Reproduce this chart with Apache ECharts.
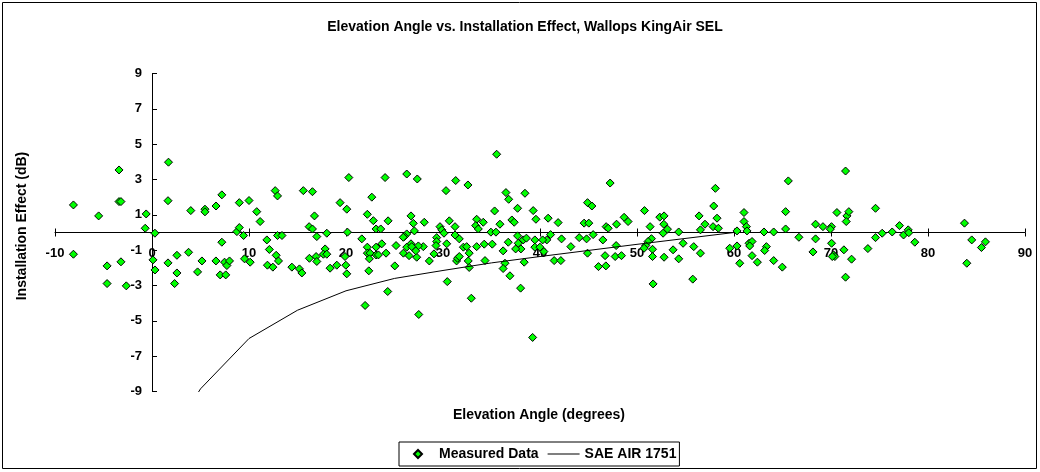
<!DOCTYPE html>
<html>
<head>
<meta charset="utf-8">
<script src="https://cdn.jsdelivr.net/npm/echarts@6/dist/echarts.min.js"></script>
<style>
  html, body { margin: 0; padding: 0; background: #fff; }
  #chart { width: 1040px; height: 472px; }
</style>
</head>
<body>
<div id="chart"></div>
<script>
// measured points: elevation angle (deg) and installation effect (dB)
var measuredAngle = [
  -8.1, -5.5, -3.4, -3.4, -3.2, -0.6, -0.7, 0.3, 1.7, 1.65, 4.0, 5.46, 5.46, 6.6, 7.2, 7.2, 9.0, 8.75, 9.0, 9.44,
  10.0, 10.8, 11.15, 11.84, 12.7, 12.94, 12.94, 13.4, 12.1, 15.6, 16.2,
  -8.1, -4.63, -4.63, -3.2, -2.65, 0.1, 0.31, 1.65, 2.57, 2.57, 2.33, 3.77, 4.7, 5.15, 6.59, 7.03, 7.6, 7.48, 7.72, 7.99,
  9.54, 10.12, 11.9, 12.46, 12.8, 13.04, 14.42, 15.2, 15.45, 16.23,
  16.54, 16.75, 16.54, 16.99, 18.02, 19.39, 20.08, 20.29, 20.15, 21.63, 22.2, 22.66, 22.82, 23.1, 23.58, 24.03, 24.34,
  26.26, 27.35, 26.7, 26.94, 27.05, 26.26, 26.02, 28.07, 29.69, 29.87, 30.1, 29.35, 29.35, 30.31, 30.65, 31.24, 31.31,
  32.57, 31.24, 31.68, 33.47, 33.37, 33.64, 34.15, 34.94, 35.32, 35.46, 35.53, 35.87, 36.49, 36.77, 37.1, 37.34, 37.69,
  37.69, 38.45, 39.3, 39.58, 39.47, 38.27, 36.73, 35.08, 34.25, 33.47, 32.1, 32.44, 30.38, 29.28, 27.97, 27.46, 26.7,
  26.26, 25.16, 23.69, 23.1, 22.2, 17.85, 16.92, 25.9, 26.78, 37.76, 38.6, 40.7,
  16.99, 17.67, 18.02, 18.36, 19.05, 19.98, 20.08, 19.9, 22.2, 22.48, 22.41, 23.1, 23.34, 24.13, 22.35, 21.97, 24.3,
  25.03, 25.92, 26.5, 27.29, 27.19, 27.5, 28.59, 29.07, 30.44, 31.4, 31.5, 31.68, 32.6, 32.7, 32.7, 32.92, 34.33,
  36.2, 36.39, 36.2, 36.9, 38.0, 38.37, 38.03, 37.49, 39.24, 39.47,
  40.84, 41.87, 41.09, 40.27, 39.99, 40.4, 41.46, 42.15, 42.22, 43.18, 44.04, 44.8, 44.9, 44.55, 45.03, 44.9, 45.35,
  45.48, 46.48, 46.03, 46.79, 46.71, 46.82, 47.03, 47.23, 47.89, 47.85, 47.75, 48.4, 48.67, 49.08, 50.77, 51.35,
  51.49, 51.14, 50.9, 50.73, 51.6, 51.6, 51.66, 52.35, 52.79, 52.76, 52.69, 53.14, 52.79, 53.72, 54.3, 54.3, 54.75,
  55.85, 55.75, 56.54, 56.4, 57.01, 56.54, 57.91, 57.84, 58.08, 58.25, 58.39, 59.56, 60.31, 60.31, 60.59, 61.03,
  61.03, 61.28, 61.34, 61.55, 61.86, 61.62, 61.86, 62.41, 63.09, 63.34, 63.16, 64.09, 64.09,
  64.98, 65.32, 65.32, 65.6, 66.69, 68.41, 68.41, 68.14, 69.17, 70.05, 69.93, 70.06, 70.27, 70.4, 70.13, 70.61,
  71.33, 71.5, 71.64, 71.84, 71.57, 71.5, 72.12, 73.8, 74.59, 74.59, 75.28, 76.31, 77.06, 77.48, 77.96, 78.02,
  78.64, 83.76, 84.51, 85.51, 85.92, 84.0
];
var measuredEffect = [
  1.56, 0.94, 3.54, 1.75, 1.75, 1.05, 0.24, -0.04, 3.98, 1.8, 1.24, 1.32, 1.17, 1.5, 2.13, -0.55, 1.69, 0.05, 0.28, -0.17,
  1.81, 1.18, 0.62, -0.42, 2.37, 2.07, -0.17, -0.17, -0.96, 2.37, 0.33,
  -1.23, -1.89, -2.89, -1.66, -3.02, -1.55, -2.12, -1.72, -1.29, -2.29, -2.89, -1.12, -2.23, -1.61, -1.61, -2.4, -2.4, -1.68, -1.87, -1.61,
  -1.49, -1.68, -1.85, -1.96, -1.29, -1.61, -1.96, -2.06, -2.29, -1.46,
  2.31, 0.94, 0.2, -0.23, -0.04, 1.69, 1.32, 3.11, 0.02, -0.36, 1.03, 2.0, 0.67, 0.2, 0.2, 3.11, 0.66,
  3.31, 3.03, 0.94, 0.52, 0.09, -0.08, -0.23, 0.58, 0.33, 0.15, -0.04, -0.29, -0.51, 2.37, 0.66, 0.33, 2.94,
  2.69, -0.14, -0.36, 0.75, 0.39, 0.2, 0.58, 0.02, 1.22, 0.02, 4.43, 0.47, 2.26, 1.88, 0.71, 0.58, -0.19,
  1.37, 2.22, 1.24, 0.75, -0.42, -0.42, -0.55, -0.66, -0.66, -0.8, -0.83, -0.8, -0.64, -0.74, -0.8, -0.76, -0.64,
  -0.83, -0.74, -0.64, -0.83, -0.83, -0.93, -1.36, -0.27, -0.8, -0.61, -0.32, -0.42,
  -1.64, -1.23, -1.23, -2.02, -1.85, -1.85, -2.34, -1.36, -1.17, -1.17, -1.49, -1.27, -1.27, -1.17, -2.17, -4.13, -3.34,
  -1.89, -1.17, -1.31, -1.4, -1.04, -4.64, -1.61, -1.21, -2.78, -1.61, -1.46, -1.36, -1.61, -1.98, -1.17, -3.72, -1.59,
  -1.04, -1.74, -2.04, -2.45, -3.15, -1.68, -0.93, -0.93, -5.94, -0.83,
  0.81, 0.56, -0.12, -0.42, -0.83, -1.08, -1.59, -1.59, -0.36, -0.8, -0.29, -0.36, -1.17, 0.53, 0.53, 1.69, 1.5,
  -0.12, -0.42, -1.93, -1.89, -1.31, 0.33, 0.24, 2.8, 0.47, -0.74, -1.36, -1.31, 0.86, 0.62, 1.24, 0.33,
  -0.35, -0.51, -0.74, -0.89, -0.95, -1.36, -2.91, 0.87, 0.94, 0.47, -0.04, 0.19, -1.4, -0.98, 0.03, -1.49, -0.61,
  -0.8, -2.64, -1.17, 0.94, 0.47, 0.15, 1.5, 0.33, 2.5, 0.81, 0.24, -0.89, 0.09, -0.76, -1.74, 1.13,
  0.62, 0.33, 0.09, -0.61, -0.51, -0.76, -1.31, -1.68, 0.03, -0.8, -1.02, 0.03, -1.59,
  -1.96, 1.18, 0.2, 2.92, -0.27, 0.47, -0.36, -1.1, 0.33, 0.33, 0.19, -0.61, -1.27, -1.36, -1.36, 1.13,
  -0.98, 3.48, 0.94, 1.18, 0.62, -2.53, -1.51, -0.91, 1.37, -0.29, -0.04, 0.03, 0.39, -0.14, 0.15, -0.01,
  -0.55, 0.53, -0.42, -0.85, -0.53, -1.74
];

// SAE AIR 1751 curve
var saeAngle = [4.6, 5, 10, 15, 20, 25, 30, 35, 40, 50, 60];
var saeEffect = [-9.2, -8.85, -6.0, -4.4, -3.3, -2.6, -2.15, -1.72, -1.36, -0.67, 0];

var measured = measuredAngle.map(function (a, i) { return [a, measuredEffect[i]]; });
var sae = saeAngle.map(function (a, i) { return [a, saeEffect[i]]; });

var font = '"Liberation Sans", Arial, sans-serif';

// plot box; axes cross at (0, 0) like the Excel original
var gridLeft = 55, gridTop = 73.5, gridW = 970, gridH = 318;
var xMin = -10, xMax = 90, yMin = -9, yMax = 9;
var yShift = gridH * (0 - yMin) / (yMax - yMin);   // from bottom edge up to y = 0
var xShift = gridW * (0 - xMin) / (xMax - xMin);   // from left edge over to x = 0

// legend icons sized to a 32x8 box
var diamondIcon = 'path://M0,0 M32,8 M12,4 L16,0 L20,4 L16,8 Z';
var lineIcon = 'path://M0,0 M32,8 M0,3.5 L32,3.5 L32,4.5 L0,4.5 Z';

var myChart = echarts.init(document.getElementById('chart'));

var option = {
  animation: false,
  backgroundColor: '#fff',
  grid: { left: gridLeft, top: gridTop, width: gridW, height: gridH, containLabel: false, outerBoundsMode: 'none' },
  xAxis: [{
    type: 'value', position: 'bottom', offset: -yShift,
    min: xMin, max: xMax, interval: 10,
    axisLine: { onZero: false, lineStyle: { color: '#000', width: 1 } },
    axisTick: { show: true, length: 4, lineStyle: { color: '#000' } },
    axisLabel: { show: true, margin: 14, fontFamily: font, fontWeight: 'bold', fontSize: 13, color: '#000', showMinLabel: true, showMaxLabel: true },
    splitLine: { show: false }
  }, {
    type: 'value', position: 'top', offset: -(gridH - yShift),
    min: xMin, max: xMax, interval: 10,
    axisLine: { onZero: false, show: false },
    axisTick: { show: true, length: 4, lineStyle: { color: '#000' } },
    axisLabel: { show: false },
    splitLine: { show: false }
  }],
  yAxis: {
    type: 'value', position: 'left', offset: -xShift,
    min: yMin, max: yMax, interval: 2,
    axisLine: { show: true, onZero: false, lineStyle: { color: '#000', width: 1 } },
    axisTick: { show: true, inside: true, length: 5, lineStyle: { color: '#000' } },
    axisLabel: { margin: 10, fontFamily: font, fontWeight: 'bold', fontSize: 13, color: '#000' },
    splitLine: { show: false }
  },
  legend: {
    left: 399, top: 442,
    padding: [5, 3, 5, 2],
    itemGap: 9,
    itemWidth: 32, itemHeight: 8,
    borderColor: '#000', borderWidth: 1,
    textStyle: { fontFamily: font, fontWeight: 'bold', fontSize: 14, color: '#000' },
    data: [
      { name: 'Measured Data', icon: diamondIcon },
      { name: 'SAE AIR 1751', icon: lineIcon, itemStyle: { color: '#000', borderWidth: 0 } }
    ]
  },
  graphic: [
    { type: 'rect', shape: { x: 2.5, y: 2.5, width: 1034, height: 466 }, style: { fill: 'none', stroke: '#000', lineWidth: 1 }, silent: true, z: -1 },
    { type: 'text', x: 525, y: 27, style: { text: 'Elevation Angle vs. Installation Effect, Wallops KingAir SEL', font: 'bold 14px ' + font, fill: '#000', textAlign: 'center', textVerticalAlign: 'middle' } },
    { type: 'text', x: 539, y: 415, style: { text: 'Elevation Angle (degrees)', font: 'bold 14px ' + font, fill: '#000', textAlign: 'center', textVerticalAlign: 'middle' } },
    { type: 'text', x: 22, y: 226, rotation: Math.PI / 2, style: { text: 'Installation Effect (dB)', font: 'bold 14px ' + font, fill: '#000', textAlign: 'center', textVerticalAlign: 'middle' } }
  ],
  series: [{
    name: 'Measured Data',
    type: 'scatter',
    symbol: 'diamond',
    symbolSize: 8,
    itemStyle: { color: '#00ff00', borderColor: '#000', borderWidth: 1, opacity: 1 },
    data: measured
  }, {
    name: 'SAE AIR 1751',
    type: 'line',
    symbol: 'none',
    clip: true,
    lineStyle: { color: '#000', width: 1 },
    itemStyle: { color: '#000' },
    data: sae
  }]
};

myChart.setOption(option);
</script>
</body>
</html>
